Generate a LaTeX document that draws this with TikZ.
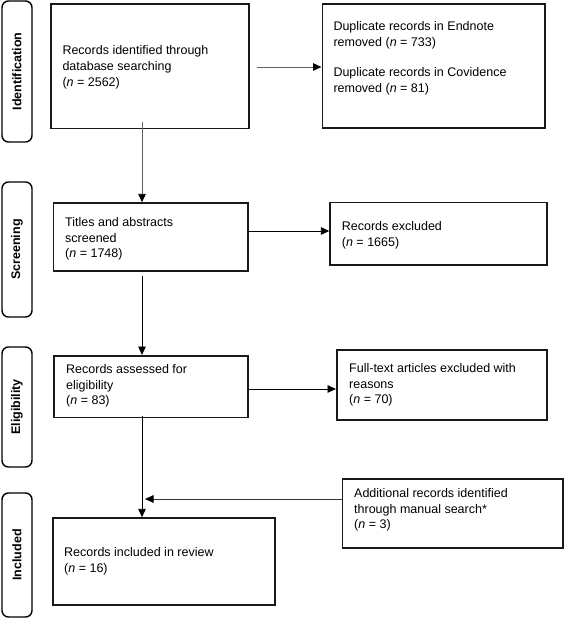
\documentclass[tikz,border=0pt]{standalone}
\usepackage{fontspec}
\setmainfont{Liberation Sans}
\usetikzlibrary{arrows.meta,calc}
\begin{document}
\begin{tikzpicture}[x=1pt,y=-1pt,
  box/.style={draw=black!90,line width=1.7pt,anchor=north west,inner sep=0pt,rectangle},
  txt/.style={anchor=north west,inner sep=0pt,align=left,font=\fontsize{12.5}{15.8}\selectfont},
  side/.style={draw=black,line width=1.4pt,rounded corners=6.5pt,rotate=90,minimum height=30pt,inner sep=0pt,font=\fontsize{12.5}{15}\selectfont\bfseries},
  arr/.style={line width=0.9pt,-{Triangle[length=8.5pt,width=7.5pt,color=black]}},
  garr/.style={arr,draw=black!62},
]
\useasboundingbox (0,0) rectangle (565,621);

% phase labels
\node[side,minimum width=141pt] (sid) at (17,71.5) {Identification};
\node[side,minimum width=135pt] (ssc) at (17,249.5) {Screening};
\node[side,minimum width=120pt] (sel) at (17,407) {Eligibility};
\node[side,minimum width=124pt] (sin) at (17,555) {Included};

% boxes
\node[box,minimum width=197.5pt,minimum height=124.5pt] (b1) at (50.3,3) {};
\node[box,minimum width=222.5pt,minimum height=124pt] (dup) at (321.5,3.3) {};
\node[box,minimum width=194.6pt,minimum height=67.7pt] (scr) at (52.7,202.3) {};
\node[box,minimum width=216.7pt,minimum height=62.3pt] (exc) at (329.3,201.7) {};
\node[box,minimum width=194.3pt,minimum height=61.7pt] (eli) at (53,355) {};
\node[box,minimum width=210pt,minimum height=70.3pt] (ful) at (336,349) {};
\node[box,minimum width=220.3pt,minimum height=69pt] (add) at (341.7,478) {};
\node[box,minimum width=222pt,minimum height=86.7pt] (inc) at (52,517.3) {};

% texts
\node[txt] (t1) at (62.3,45.5) {Records identified through\\database searching\\(\textit{n} = 2562)};
\node[txt] (t2) at (333.3,21.5) {Duplicate records in Endnote\\removed (\textit{n} = 733)\\[14pt]Duplicate records in Covidence\\removed (\textit{n} = 81)};
\node[txt] (t3) at (65,217) {Titles and abstracts\\screened\\(\textit{n} = 1748)};
\node[txt] (t4) at (341.7,221.5) {Records excluded\\(\textit{n} = 1665)};
\node[txt] (t5) at (66,364) {Records assessed for\\eligibility\\(\textit{n} = 83)};
\node[txt] (t6) at (349,363) {Full-text articles excluded with\\reasons\\(\textit{n} = 70)};
\node[txt] (t7) at (354,488) {Additional records identified\\through manual search*\\(\textit{n} = 3)};
\node[txt] (t8) at (64,547) {Records included in review\\(\textit{n} = 16)};

% helper coordinates
\coordinate (col) at (142,0);
\coordinate (r1) at (0,67);
\coordinate (r2) at (0,231);
\coordinate (r3) at (0,389);
\coordinate (j) at (142,499);

% connectors
\draw[garr,shorten <=7pt] (b1.east |- r1) -- (dup.west |- r1);
\draw[garr,shorten <=-7.5pt] (b1.south -| col) -- (scr.north -| col);
\draw[arr] (scr.east |- r2) -- (exc.west |- r2);
\draw[arr,shorten <=4pt] (scr.south -| col) -- (eli.north -| col);
\draw[arr] (eli.east |- r3) -- (ful.west |- r3);
\draw[arr,shorten <=-2.5pt] (eli.south -| col) -- (inc.north -| col);
\draw[arr,draw=black!80,shorten >=3pt] (add.west |- j) -- (j);
\end{tikzpicture}
\end{document}
